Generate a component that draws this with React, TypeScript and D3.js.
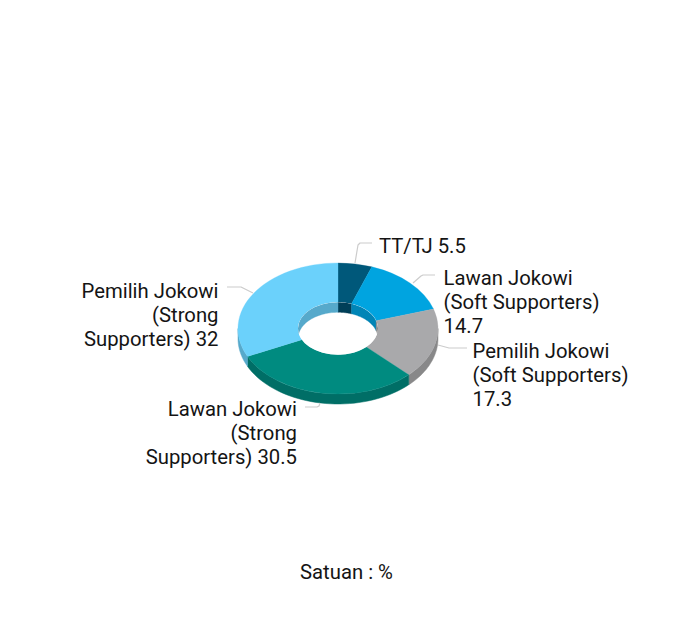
import React from "react";
import * as d3 from "d3";

const categories = ["TT/TJ", "Lawan Jokowi (Soft Supporters)", "Pemilih Jokowi (Soft Supporters)", "Lawan Jokowi (Strong Supporters)", "Pemilih Jokowi (Strong Supporters)"];
const values = [5.5, 14.7, 17.3, 30.5, 32];
const topColors = ["#00587a", "#00a4e0", "#a9a9ab", "#008b80", "#6bd1fb"];
const sideColors = ["#003f58", "#0085b6", "#888889", "#006e66", "#56a9cb"];
const labelLines = [["TT/TJ 5.5"], ["Lawan Jokowi", "(Soft Supporters)", "14.7"], ["Pemilih Jokowi", "(Soft Supporters)", "17.3"], ["Lawan Jokowi", "(Strong", "Supporters) 30.5"], ["Pemilih Jokowi", "(Strong", "Supporters) 32"]];
const labelX = [379, 443.5, 472.5, 297, 218.5];
const labelY = [253, 285, 358, 416, 297.5];
const labelAnchor = ["start", "start", "start", "end", "end"];
const connectors = [
  [[372, 243], [360, 243], [358, 245], [355, 263]],
  [[435, 275], [423, 275], [421, 276], [413, 283]],
  [[467, 348], [451, 348], [449, 348], [438, 345]],
  [[305, 407], [317, 407], [319, 406], [320, 403]],
  [[227, 287], [239, 287], [241, 287], [253, 293]],
];

const W = 690, H = 618;
const cx = 338, cy = 328.5, R = 100, r = 40, tilt = 0.655, depth = 10;

const pieGen = d3.pie<number>().sort(null)(values);
const arcGen = d3.arc<d3.PieArcDatum<number>>().innerRadius(r).outerRadius(R);

function wall(a0: number, a1: number, rad: number) {
  const n = 40;
  const sx = d3.scaleLinear().domain([0, n]).range([a0, a1]);
  const top = d3.range(n + 1).map((i) => [cx + rad * Math.sin(sx(i)), cy - rad * tilt * Math.cos(sx(i))]);
  const bottom = top.slice().reverse().map(([x, y]) => [x, y + depth]);
  return d3.line()([...top, ...bottom] as [number, number][]) + "Z";
}

export default function App() {
  const halfPi = Math.PI / 2;
  return (
    <svg width={W} height={H} style={{ position: "absolute", left: 0, top: 0, background: "#fff" }} fontFamily="Roboto">
      {pieGen.map((d, i) => {
        const a0 = Math.max(d.startAngle, halfPi), a1 = Math.min(d.endAngle, 3 * halfPi);
        return a1 > a0 ? <path key={i} d={wall(a0, a1, R)} fill={sideColors[i]} stroke={sideColors[i]} strokeWidth={0.5} /> : null;
      })}
      <g transform={`translate(${cx},${cy}) scale(1,${tilt})`}>
        {pieGen.map((d, i) => (
          <path key={i} d={arcGen(d) || ""} fill={topColors[i]} stroke={topColors[i]} strokeWidth={0.4} />
        ))}
      </g>
      <ellipse cx={cx} cy={cy} rx={r} ry={r * tilt} fill="#fff" />
      <clipPath id="hole"><ellipse cx={cx} cy={cy} rx={r} ry={r * tilt} /></clipPath>
      <g clipPath="url(#hole)">
        {pieGen.map((d, i) => {
          const segs: [number, number][] = [[d.startAngle, Math.min(d.endAngle, halfPi)], [Math.max(d.startAngle, 3 * halfPi), d.endAngle]];
          return segs.filter(([a, b]) => b > a).map(([a, b], j) => (
            <path key={`${i}-${j}`} d={wall(a, b, r)} fill={sideColors[i]} stroke={sideColors[i]} strokeWidth={0.4} />
          ));
        })}
      </g>
      {connectors.map((c, i) => (
        <path key={i} d={d3.line()(c as [number, number][]) || ""} fill="none" stroke="#cccccc" strokeWidth={1.2} strokeLinejoin="round" />
      ))}
      {labelLines.map((lines, i) => (
        <text key={i} fontSize={20.3} fill="#141414" textAnchor={labelAnchor[i]}>
          {lines.map((l, j) => (
            <tspan key={j} x={labelX[i]} y={labelY[i] + j * 24}>{l}</tspan>
          ))}
        </text>
      ))}
      <text x={346.5} y={579} fontSize={20.3} fill="#141414" textAnchor="middle">Satuan : %</text>
    </svg>
  );
}
